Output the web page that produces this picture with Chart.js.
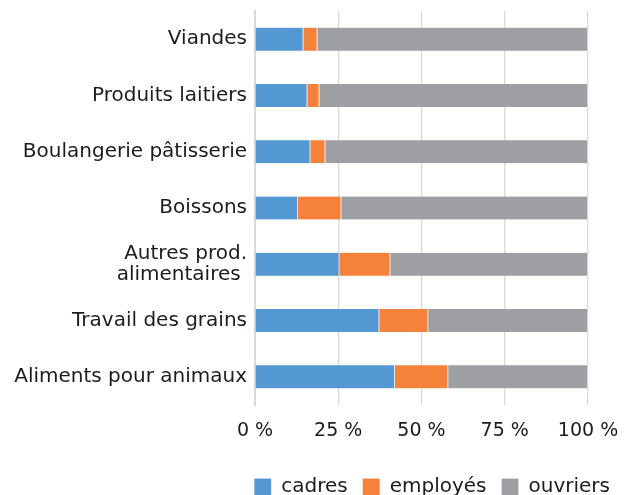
<!DOCTYPE html>
<html>
<head>
<meta charset="utf-8">
<script src="https://cdn.jsdelivr.net/npm/chart.js@4/dist/chart.umd.min.js"></script>
<style>
  html, body { margin: 0; padding: 0; background: #fff; }
  #wrap { width: 625px; height: 495px; }
</style>
</head>
<body>
<div id="wrap"><canvas id="chart"></canvas></div>
<script>
const categories = [
  "Viandes",
  "Produits laitiers",
  "Boulangerie pâtisserie",
  "Boissons",
  ["Autres prod.", "alimentaires "],
  "Travail des grains",
  "Aliments pour animaux"
];
const cadres   = [14.5, 15.7, 16.6, 12.9, 25.3, 37.3, 42.0];
const employes = [4.2, 3.6, 4.5, 13.0, 15.3, 14.7, 16.0];
const ouvriers = [81.3, 80.7, 78.9, 74.1, 59.4, 48.0, 42.0];
const xTicks = [0, 25, 50, 75, 100];

const font = "'DejaVu Sans', sans-serif";
const ink = "#1c1c1c";

new Chart(document.getElementById("chart"), {
  type: "bar",
  data: {
    labels: categories,
    datasets: [
      { label: "cadres", data: cadres, backgroundColor: "#5397d3" },
      { label: "employés", data: employes, backgroundColor: "#f5823a" },
      { label: "ouvriers", data: ouvriers, backgroundColor: "#9d9fa3" }
    ]
  },
  options: {
    indexAxis: "y",
    responsive: true,
    maintainAspectRatio: false,
    animation: false,
    datasets: {
      bar: {
        barThickness: 23,
        borderSkipped: false,
        borderWidth: { top: 0, bottom: 0, left: 0, right: 1 },
        borderColor: "rgba(255,255,255,0.7)"
      }
    },
    layout: { padding: { top: 11, right: 0, left: 0, bottom: -12 } },
    scales: {
      x: {
        stacked: true,
        min: 0,
        max: 100,
        afterBuildTicks: (s) => { s.ticks = xTicks.map(v => ({ value: v })); },
        afterFit: (s) => { s.height = 57; s.paddingLeft = 0; s.paddingRight = 37; },
        grid: { color: "#d9d9d9", drawTicks: false, lineWidth: 1.3 },
        border: { display: false },
        ticks: {
          padding: 15,
          maxRotation: 0,
          color: ink,
          font: { family: font, size: 19 },
          callback: (v) => v + " %"
        }
      },
      y: {
        stacked: true,
        grid: { display: false, drawTicks: false },
        border: { display: true, color: "#d9d9d9", width: 2 },
        afterFit: (s) => { s.width = 255; s.paddingTop = 0; s.paddingBottom = 0; },
        ticks: {
          padding: 8,
          color: ink,
          font: { family: font, size: 20, lineHeight: 1.05 }
        }
      }
    },
    plugins: {
      tooltip: { enabled: false },
      legend: {
        position: "bottom",
        align: "end",
        labels: {
          boxWidth: 17,
          boxHeight: 17,
          padding: 15,
          color: ink,
          font: { family: font, size: 20 }
        }
      }
    }
  }
});
</script>
</body>
</html>
